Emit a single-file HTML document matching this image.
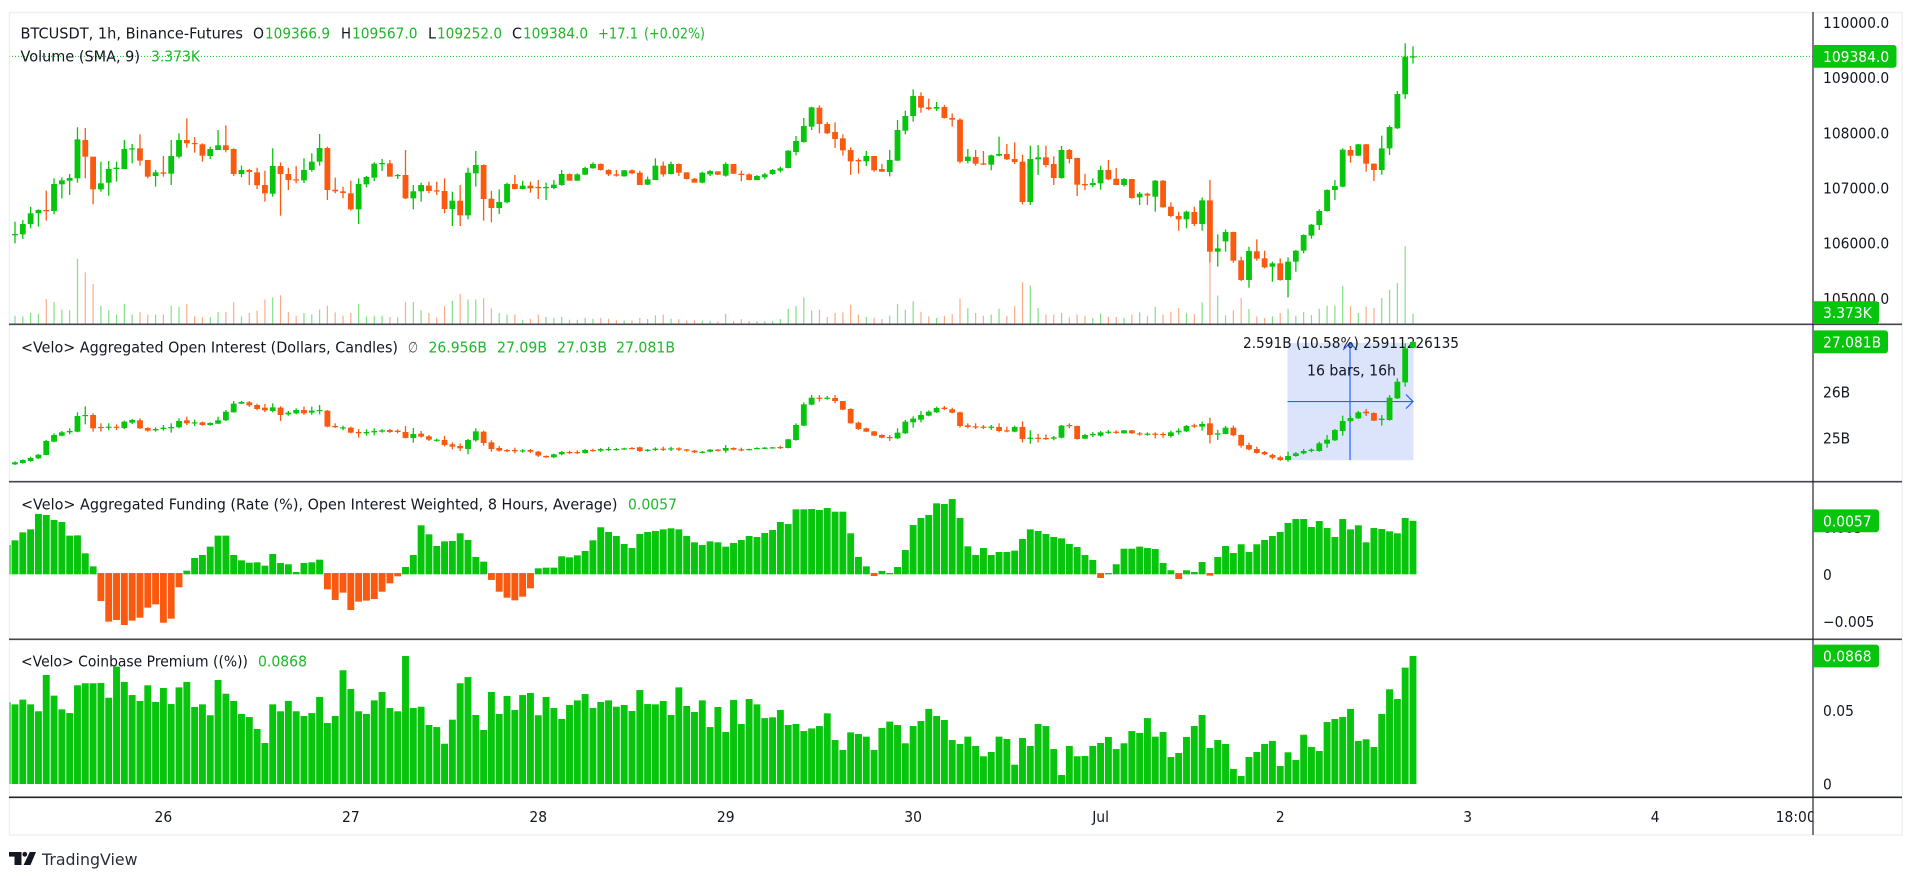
<!DOCTYPE html>
<html lang="en">
<head>
<meta charset="utf-8">
<title>BTCUSDT 1h chart</title>
<style>
html,body{margin:0;padding:0;background:#fff;width:1910px;height:880px;overflow:hidden}
svg{display:block}
text{font-family:"DejaVu Sans","Liberation Sans",sans-serif;font-size:15px;fill:#131722}
.up{fill:#1eb82b}
.w{fill:#fff}
</style>
</head>
<body>
<svg id="chart" width="1910" height="880" viewBox="0 0 1910 880" xmlns="http://www.w3.org/2000/svg">
<defs>
<clipPath id="clip-plot"><rect x="9.5" y="13" width="1803.5" height="784"/></clipPath>
<clipPath id="clip-time"><rect x="9.5" y="798" width="1803.5" height="37"/></clipPath>
</defs>
<rect x="9.5" y="12.5" width="1892.5" height="822.5" fill="#fff" stroke="#eef0f4" stroke-width="1.5"/>
<g id="measure-layer"></g>
<g id="marks" clip-path="url(#clip-plot)"></g>
<g id="lines">
<line x1="9" x2="1902" y1="324.3" y2="324.3" stroke="#434651" stroke-width="1.6"/>
<line x1="9" x2="1902" y1="481.7" y2="481.7" stroke="#434651" stroke-width="1.6"/>
<line x1="9" x2="1902" y1="639.3" y2="639.3" stroke="#434651" stroke-width="1.6"/>
<line x1="9" x2="1902" y1="797.3" y2="797.3" stroke="#22252e" stroke-width="1.6"/>
</g>
<g>
<text x="20.5" y="38.5" textLength="222.5" lengthAdjust="spacingAndGlyphs">BTCUSDT, 1h, Binance-Futures</text>
<text x="253" y="38.5" textLength="11" lengthAdjust="spacingAndGlyphs">O</text>
<text class="up" x="265" y="38.5" textLength="65" lengthAdjust="spacingAndGlyphs">109366.9</text>
<text x="341" y="38.5" textLength="10" lengthAdjust="spacingAndGlyphs">H</text>
<text class="up" x="352" y="38.5" textLength="65.5" lengthAdjust="spacingAndGlyphs">109567.0</text>
<text x="428" y="38.5" textLength="8" lengthAdjust="spacingAndGlyphs">L</text>
<text class="up" x="437" y="38.5" textLength="65" lengthAdjust="spacingAndGlyphs">109252.0</text>
<text x="512" y="38.5" textLength="10" lengthAdjust="spacingAndGlyphs">C</text>
<text class="up" x="523" y="38.5" textLength="65" lengthAdjust="spacingAndGlyphs">109384.0</text>
<text class="up" x="598" y="38.5" textLength="40" lengthAdjust="spacingAndGlyphs">+17.1</text>
<text class="up" x="644" y="38.5" textLength="61" lengthAdjust="spacingAndGlyphs">(+0.02%)</text>
<text x="20.5" y="61.5" textLength="119.5" lengthAdjust="spacingAndGlyphs">Volume (SMA, 9)</text>
<text class="up" x="151" y="61.5" textLength="49" lengthAdjust="spacingAndGlyphs">3.373K</text>
</g>
<g>
<text x="21" y="352.5" textLength="377" lengthAdjust="spacingAndGlyphs">&lt;Velo&gt; Aggregated Open Interest (Dollars, Candles)</text>
<text x="408" y="352.5" fill="#555" style="fill:#555" textLength="10" lengthAdjust="spacingAndGlyphs">∅</text>
<text class="up" x="428.5" y="352.5" textLength="58.5" lengthAdjust="spacingAndGlyphs">26.956B</text>
<text class="up" x="497" y="352.5" textLength="50" lengthAdjust="spacingAndGlyphs">27.09B</text>
<text class="up" x="557" y="352.5" textLength="50" lengthAdjust="spacingAndGlyphs">27.03B</text>
<text class="up" x="616" y="352.5" textLength="59" lengthAdjust="spacingAndGlyphs">27.081B</text>
</g>
<g>
<text x="21" y="509.5" textLength="596.5" lengthAdjust="spacingAndGlyphs">&lt;Velo&gt; Aggregated Funding (Rate (%), Open Interest Weighted, 8 Hours, Average)</text>
<text class="up" x="628" y="509.5" textLength="49" lengthAdjust="spacingAndGlyphs">0.0057</text>
</g>
<g>
<text x="21" y="666.5" textLength="227" lengthAdjust="spacingAndGlyphs">&lt;Velo&gt; Coinbase Premium ((%))</text>
<text class="up" x="258" y="666.5" textLength="49" lengthAdjust="spacingAndGlyphs">0.0868</text>
</g>
<g id="time-axis" clip-path="url(#clip-time)"></g>
<g id="price-axis"></g>
<line x1="1813" x2="1813" y1="12" y2="835" stroke="#22252e" stroke-width="1.2"/>
<g id="badges"></g>
<g>
<rect x="9" y="852" width="12.5" height="4.6" fill="#131722"/>
<rect x="14.5" y="852" width="7" height="13" fill="#131722"/>
<circle cx="24.8" cy="854.3" r="2.4" fill="#131722"/>
<polygon points="29.8,852 36,852 30.5,865 23.6,865" fill="#131722"/>
<text x="42" y="865" textLength="95.5" lengthAdjust="spacingAndGlyphs" style="font-size:16px;fill:#2a2e39">TradingView</text>
</g>
</svg>
<script>
// [open, high, low, close] per hourly bar, USDT
const btcOhlc = [
[106141,106388,105996,106165],[106159,106419,106074,106346],[106346,106660,106268,106540],[106540,106612,106298,106600],
[106600,106950,106407,106576],[106582,107174,106521,107071],[107065,107192,106811,107137],[107131,107252,106872,107180],
[107174,108098,107095,107880],[107868,108086,107174,107566],[107566,107566,106702,106974],[106974,107476,106932,107083],
[107095,107488,106859,107343],[107343,107476,107113,107367],[107343,107868,107343,107705],[107699,107796,107445,107717],
[107717,107971,107403,107494],[107506,107506,107174,107204],[107216,107325,107023,107282],[107282,107578,107204,107258],
[107258,107868,107053,107578],[107566,107989,107536,107868],[107868,108261,107729,107808],[107814,107917,107639,107802],
[107790,107808,107476,107584],[107578,107747,107524,107705],[107687,108049,107687,107772],[107772,108134,107645,107687],
[107705,107717,107216,107252],[107252,107403,107192,107325],[107325,107343,107053,107288],[107282,107367,106980,107047],
[107053,107312,106751,106902],[106896,107717,106841,107397],[107397,107463,106497,107252],[107252,107367,106962,107143],
[107155,107397,107083,107137],[107137,107536,107089,107325],[107325,107627,107294,107476],[107476,107977,107403,107723],
[107723,107747,106781,106962],[106968,107186,106902,106938],[106938,107023,106811,106908],[106902,107131,106588,106612],
[106612,107174,106346,107071],[107065,107216,107011,107198],[107186,107464,107125,107439],[107433,107524,107306,107451],
[107445,107506,107204,107204],[107216,107252,107161,107234],[107234,107687,106799,106811],[106811,107053,106612,106938],
[106938,107095,106751,107053],[107041,107113,106902,106944],[106956,107113,106872,106938],[106944,107174,106539,106618],
[106618,106932,106310,106769],[106769,107053,106310,106503],[106503,107367,106431,107276],[107264,107669,107023,107415],
[107415,107427,106407,106799],[106805,106950,106376,106636],[106636,106974,106527,106745],[106739,107095,106721,107071],
[107071,107234,106974,106980],[106980,107131,106974,107041],[107041,107113,106914,106992],[107017,107143,106799,106998],
[107004,107095,106781,107017],[106998,107143,106974,107059],[107053,107325,107041,107252],[107252,107264,107131,107131],
[107131,107264,107131,107246],[107240,107385,107234,107361],[107355,107464,107349,107433],[107433,107445,107313,107325],
[107325,107337,107216,107246],[107246,107325,107204,107222],[107210,107325,107204,107319],[107319,107337,107246,107264],
[107276,107312,107053,107053],[107059,107204,107053,107155],[107143,107536,107143,107403],[107403,107476,107204,107246],
[107252,107476,107246,107433],[107433,107445,107216,107276],[107282,107282,107155,107161],[107167,107180,107095,107095],
[107095,107294,107083,107276],[107246,107325,107216,107306],[107300,107300,107234,107240],[107222,107464,107204,107433],
[107433,107433,107252,107258],[107258,107312,107119,107234],[107246,107264,107137,107143],[107143,107234,107143,107216],
[107192,107270,107155,107246],[107252,107343,107240,107325],[107313,107385,107282,107355],[107361,107687,107355,107675],
[107651,107941,107590,107850],[107832,108267,107820,108122],[108110,108472,108049,108460],[108454,108496,107989,108158],
[108158,108194,107977,107989],[108013,108188,107723,107886],[107898,107971,107584,107681],[107687,107735,107234,107482],
[107506,107536,107258,107482],[107482,107669,107397,107578],[107578,107578,107294,107319],[107343,107433,107288,107294],
[107288,107687,107210,107506],[107494,108231,107488,108049],[108037,108400,107971,108303],[108303,108786,108200,108666],
[108666,108732,108363,108454],[108460,108617,108406,108430],[108436,108557,108394,108466],[108466,108502,108255,108267],
[108267,108351,108110,108237],[108237,108261,107445,107476],[107488,107705,107445,107566],[107560,107687,107403,107439],
[107445,107669,107415,107421],[107421,107602,107319,107590],[107584,107929,107572,107615],[107615,107796,107506,107518],
[107524,107826,107433,107470],[107476,107602,106702,106745],[106745,107766,106690,107524],[107518,107778,107234,107554],
[107554,107766,107373,107415],[107433,107572,107053,107180],[107180,107760,107168,107687],[107687,107705,107445,107524],
[107542,107548,106854,107059],[107071,107252,106962,107047],[107053,107174,107011,107089],[107083,107403,106968,107325],
[107325,107506,107143,107155],[107167,107361,107047,107053],[107053,107180,107023,107161],[107161,107161,106805,106817],
[106829,106926,106690,106896],[106896,106914,106690,106860],[106841,107143,106570,107131],[107131,107143,106642,106648],
[106660,106739,106467,106491],[106491,106570,106225,106431],[106431,106588,106268,106570],[106564,106660,106310,106346],
[106346,106829,106225,106775],[106775,107143,105651,105845],[105845,106159,105573,105905],[106032,106249,105845,106201],
[106201,106207,105646,105682],[105688,105754,105313,105332],[105332,105935,105192,105857],[105851,106068,105682,105718],
[105724,105863,105543,105561],[105573,105664,105301,105633],[105633,105724,105319,105332],[105332,105742,105017,105664],
[105664,105875,105482,105863],[105863,106159,105815,106147],[106135,106346,106080,106334],[106328,106612,106237,106582],
[106582,106974,106570,106962],[106962,107143,106781,107035],[107023,107717,107011,107693],[107687,107760,107457,107584],
[107584,107796,107578,107790],[107790,107796,107294,107439],[107439,107445,107125,107325],[107325,107947,107240,107717],
[107717,108134,107596,108104],[108080,108756,108068,108702],[108696,109620,108611,109378],[109366.9,109567,109252,109384]
];

// Volume per bar, thousands
const btcVolume = [
2.7,2.5,3.6,3.4,8.2,7.2,4.7,4.5,21.3,16.9,13.1,6.0,4.5,3.1,6.6,3.1,3.9,3.1,3.1,3.1,
6.0,5.6,6.6,2.5,2.2,2.2,3.9,3.9,7.1,2.5,3.6,4.4,8.0,8.7,9.4,3.9,2.7,3.6,3.1,4.7,
6.0,3.8,2.7,3.6,6.6,2.5,2.7,2.7,2.3,2.2,7.2,7.2,4.5,3.6,2.2,5.8,7.6,9.9,8.0,8.0,
8.4,5.1,3.6,3.1,3.1,1.4,1.7,3.1,2.3,2.0,2.3,1.4,1.4,2.0,1.7,2.0,1.7,1.2,1.1,1.1,
2.0,1.6,2.8,3.1,1.7,1.6,1.1,1.2,1.1,1.0,0.9,3.3,1.0,1.6,1.0,0.9,0.9,0.9,1.6,5.0,
5.8,8.7,4.4,4.7,2.3,3.6,3.8,6.3,3.1,2.3,2.0,1.6,2.7,6.6,4.7,7.4,4.0,2.5,2.0,2.7,
3.2,8.3,5.2,3.6,2.7,3.1,5.0,2.7,5.8,13.7,12.6,5.2,3.1,3.1,3.6,2.2,3.1,2.7,2.0,3.4,
2.3,2.3,2.0,3.1,3.8,2.7,5.6,3.1,4.0,5.2,3.6,3.3,7.1,20.3,9.3,2.8,4.5,8.5,4.9,2.5,
2.0,2.5,3.6,5.0,2.7,3.9,2.9,5.0,6.0,6.0,12.5,5.8,3.6,5.7,5.2,8.5,11.2,13.4,25.4,3.373
];

// Open interest [open, high, low, close], billions of dollars
const oiOhlc = [
[24.420,24.485,24.406,24.464],[24.449,24.529,24.435,24.514],[24.493,24.587,24.478,24.558],[24.551,24.645,24.536,24.630],
[24.623,24.949,24.616,24.927],[24.913,25.094,24.898,25.058],[25.043,25.145,25.029,25.116],[25.116,25.203,25.072,25.145],
[25.130,25.551,25.116,25.471],[25.471,25.681,25.290,25.493],[25.493,25.529,25.130,25.203],[25.232,25.312,25.130,25.217],
[25.225,25.312,25.159,25.239],[25.239,25.290,25.167,25.217],[25.210,25.369,25.188,25.348],[25.326,25.406,25.297,25.384],
[25.377,25.420,25.188,25.203],[25.210,25.225,25.130,25.152],[25.159,25.225,25.130,25.188],[25.188,25.275,25.152,25.217],
[25.203,25.312,25.109,25.232],[25.225,25.420,25.203,25.362],[25.377,25.456,25.275,25.312],[25.319,25.391,25.254,25.333],
[25.333,25.348,25.261,25.275],[25.275,25.333,25.261,25.319],[25.304,25.456,25.297,25.377],[25.377,25.601,25.362,25.565],
[25.551,25.797,25.543,25.739],[25.739,25.797,25.732,25.775],[25.768,25.797,25.666,25.703],[25.710,25.739,25.594,25.623],
[25.652,25.732,25.558,25.594],[25.580,25.746,25.551,25.659],[25.652,25.681,25.362,25.493],[25.507,25.580,25.478,25.543],
[25.529,25.638,25.507,25.601],[25.601,25.674,25.493,25.529],[25.543,25.674,25.493,25.587],[25.580,25.710,25.507,25.601],
[25.587,25.601,25.225,25.239],[25.254,25.312,25.210,25.225],[25.203,25.261,25.159,25.225],[25.217,25.239,25.094,25.109],
[25.123,25.188,24.999,25.094],[25.094,25.181,25.043,25.123],[25.116,25.203,25.051,25.145],[25.130,25.188,25.109,25.159],
[25.167,25.188,25.101,25.123],[25.152,25.181,25.094,25.123],[25.123,25.254,24.985,24.993],[24.993,25.210,24.891,25.079],
[25.087,25.145,24.999,25.022],[25.029,25.058,24.927,24.956],[24.935,24.978,24.913,24.956],[24.949,25.036,24.811,24.840],
[24.855,24.898,24.746,24.804],[24.819,24.877,24.710,24.768],[24.753,24.971,24.637,24.949],[24.942,25.203,24.913,25.137],
[25.130,25.152,24.826,24.884],[24.898,24.942,24.695,24.753],[24.775,24.819,24.695,24.717],[24.732,24.753,24.681,24.703],
[24.732,24.782,24.659,24.703],[24.710,24.753,24.674,24.724],[24.732,24.753,24.666,24.695],[24.695,24.710,24.580,24.609],
[24.601,24.616,24.558,24.572],[24.572,24.652,24.558,24.637],[24.637,24.710,24.616,24.688],[24.688,24.717,24.645,24.674],
[24.688,24.724,24.645,24.674],[24.666,24.753,24.652,24.732],[24.732,24.761,24.695,24.717],[24.717,24.775,24.688,24.753],
[24.739,24.797,24.710,24.753],[24.739,24.775,24.717,24.753],[24.753,24.782,24.732,24.768],[24.775,24.797,24.753,24.761],
[24.790,24.804,24.688,24.710],[24.724,24.753,24.695,24.739],[24.732,24.790,24.710,24.761],[24.761,24.804,24.710,24.739],
[24.746,24.804,24.710,24.768],[24.768,24.790,24.710,24.739],[24.746,24.753,24.695,24.717],[24.717,24.732,24.666,24.681],
[24.674,24.710,24.659,24.695],[24.695,24.753,24.681,24.739],[24.739,24.753,24.695,24.717],[24.717,24.840,24.674,24.775],
[24.775,24.790,24.724,24.739],[24.746,24.782,24.703,24.732],[24.739,24.761,24.724,24.753],[24.761,24.790,24.753,24.775],
[24.768,24.797,24.753,24.782],[24.775,24.797,24.761,24.790],[24.797,24.826,24.753,24.775],[24.775,24.971,24.768,24.964],
[24.949,25.312,24.935,25.275],[25.261,25.768,25.254,25.724],[25.717,25.927,25.703,25.869],[25.869,25.927,25.782,25.848],
[25.848,25.906,25.826,25.869],[25.862,25.927,25.746,25.797],[25.797,25.797,25.601,25.609],[25.623,25.638,25.304,25.312],
[25.326,25.348,25.167,25.188],[25.203,25.217,25.123,25.130],[25.137,25.145,25.036,25.043],[25.058,25.072,24.985,24.999],
[25.014,25.058,24.927,24.993],[24.985,25.203,24.971,25.109],[25.094,25.384,25.080,25.348],[25.333,25.464,25.217,25.413],
[25.391,25.580,25.333,25.493],[25.478,25.594,25.464,25.565],[25.551,25.674,25.536,25.645],[25.652,25.688,25.601,25.623],
[25.616,25.652,25.529,25.543],[25.551,25.565,25.217,25.254],[25.268,25.312,25.203,25.232],[25.246,25.312,25.188,25.225],
[25.239,25.275,25.188,25.217],[25.217,25.275,25.167,25.239],[25.232,25.312,25.116,25.145],[25.159,25.239,25.116,25.137],
[25.130,25.261,25.116,25.232],[25.232,25.355,24.898,24.971],[24.978,25.159,24.869,24.999],[24.999,25.087,24.898,24.978],
[24.993,25.072,24.949,24.971],[24.978,25.036,24.942,25.007],[24.999,25.275,24.985,25.261],[25.275,25.312,25.203,25.254],
[25.254,25.261,24.956,24.971],[24.978,25.080,24.971,25.058],[25.051,25.123,25.014,25.080],[25.043,25.145,25.022,25.116],
[25.109,25.167,25.080,25.130],[25.130,25.159,25.080,25.109],[25.094,25.167,25.087,25.159],[25.159,25.167,25.080,25.094],
[25.094,25.123,25.043,25.072],[25.072,25.116,25.043,25.087],[25.087,25.116,24.985,25.065],[25.080,25.116,24.999,25.058],
[25.036,25.152,24.999,25.116],[25.116,25.203,25.065,25.152],[25.137,25.275,25.123,25.254],[25.268,25.304,25.210,25.239],
[25.239,25.348,25.152,25.297],[25.312,25.435,24.877,25.058],[25.065,25.167,24.949,25.094],[25.080,25.254,25.072,25.217],
[25.217,25.261,25.029,25.051],[25.058,25.072,24.782,24.826],[24.840,24.891,24.724,24.746],[24.753,24.804,24.652,24.666],
[24.688,24.710,24.623,24.637],[24.623,24.652,24.529,24.565],[24.572,24.608,24.493,24.514],[24.514,24.695,24.478,24.601],
[24.601,24.688,24.587,24.659],[24.659,24.753,24.637,24.710],[24.710,24.768,24.681,24.739],[24.710,24.913,24.695,24.877],
[24.869,25.058,24.782,24.956],[24.942,25.188,24.927,25.167],[25.145,25.478,25.043,25.362],[25.362,25.478,25.326,25.427],
[25.420,25.580,25.406,25.551],[25.565,25.623,25.471,25.529],[25.536,25.551,25.362,25.369],[25.384,25.493,25.261,25.413],
[25.384,25.927,25.369,25.869],[25.855,26.290,25.840,26.217],[26.202,27.050,26.108,26.942],[26.956,27.090,26.950,27.081]
];

// Funding rate in percent; first value is the partly visible bar before the first candle
const fundingRate = [
.00312,.00362,.00447,.00479,.00643,.00632,.00579,.00557,.00412,.00415,.00224,.00085,-.00284,-.00504,-.00486,-.00540,-.00493,-.00462,-.00355,-.00320,
-.00515,-.00472,-.00138,.00039,.00174,.00206,.00295,.00412,.00412,.00206,.00149,.00124,.00128,.00092,.00217,.00121,.00107,.00025,.00121,.00128,
.00156,-.00160,-.00273,-.00195,-.00380,-.00291,-.00280,-.00263,-.00185,-.00096,-.00021,.00078,.00206,.00522,.00426,.00302,.00351,.00355,.00437,.00366,
.00185,.00135,-.00060,-.00185,-.00249,-.00277,-.00238,-.00149,.00064,.00071,.00071,.00192,.00181,.00202,.00249,.00362,.00501,.00451,.00408,.00323,
.00280,.00430,.00451,.00462,.00479,.00490,.00479,.00408,.00341,.00312,.00351,.00341,.00295,.00334,.00366,.00408,.00398,.00440,.00472,.00557,
.00536,.00692,.00692,.00696,.00685,.00706,.00667,.00667,.00437,.00185,.00085,-.00018,.00036,.00014,.00078,.00259,.00525,.00600,.00632,.00756,
.00749,.00802,.00600,.00298,.00206,.00280,.00206,.00238,.00238,.00252,.00376,.00479,.00462,.00430,.00398,.00383,.00323,.00291,.00206,.00153,
-.00039,.00014,.00107,.00273,.00273,.00295,.00280,.00270,.00121,.00043,-.00050,.00043,.00025,.00131,-.00014,.00185,.00302,.00227,.00320,.00238,
.00320,.00366,.00408,.00451,.00547,.00589,.00589,.00504,.00568,.00493,.00398,.00589,.00479,.00522,.00341,.00493,.00483,.00458,.00437,.00600,.0057
];

// Coinbase premium in percent; first value is the partly visible bar before the first candle
const premiumPct = [
.0554,.0540,.0572,.0540,.0493,.0739,.0599,.0506,.0481,.0669,.0683,.0683,.0685,.0585,.0796,.0692,.0603,.0563,.0669,.0556,
.0651,.0542,.0655,.0692,.0522,.0540,.0466,.0705,.0612,.0563,.0475,.0454,.0373,.0278,.0540,.0493,.0563,.0493,.0461,.0481,
.0590,.0414,.0461,.0771,.0644,.0493,.0475,.0567,.0624,.0515,.0493,.0868,.0515,.0524,.0400,.0386,.0273,.0436,.0683,.0725,
.0468,.0366,.0624,.0475,.0597,.0502,.0603,.0617,.0466,.0590,.0515,.0441,.0536,.0567,.0610,.0515,.0556,.0567,.0524,.0536,
.0495,.0637,.0542,.0540,.0563,.0468,.0655,.0529,.0488,.0567,.0386,.0522,.0353,.0570,.0407,.0576,.0540,.0447,.0452,.0502,
.0400,.0407,.0359,.0377,.0393,.0479,.0298,.0231,.0350,.0339,.0321,.0231,.0380,.0423,.0400,.0276,.0393,.0427,.0509,.0461,
.0434,.0298,.0271,.0321,.0258,.0188,.0217,.0321,.0305,.0131,.0312,.0258,.0407,.0393,.0237,.0061,.0258,.0188,.0190,.0258,
.0278,.0319,.0237,.0276,.0359,.0346,.0447,.0321,.0353,.0183,.0210,.0319,.0393,.0468,.0244,.0298,.0271,.0102,.0054,.0183,
.0217,.0271,.0292,.0122,.0215,.0163,.0334,.0251,.0224,.0420,.0441,.0454,.0509,.0292,.0303,.0251,.0475,.0642,.0576,.0789,.0868
];

const dayLabels = ['26','27','28','29','30','Jul','2','3','4','18:00'];
const dayBars = [19,43,67,91,115,139,162,186,210,228];
const priceTicks = [110000,109000,108000,107000,106000,105000];
const oiTicks = [26,25];
const fundingTicks = [0.005,0,-0.005];
const premiumTicks = [0.05,0];
const lastPrice = [109384.0];
const lastVolume = [3.373];
const lastOi = [27.081];
const lastFunding = [0.0057];
const lastPremium = [0.0868];
const measureBars = [163,179];
const measureValues = [24.51,27.06];

const GREEN = '#07c40c', RED = '#fa5a0f', BLUE = '#2962ff';
const SVGNS = 'http://www.w3.org/2000/svg';
const marks = document.getElementById('marks');
const axisG = document.getElementById('price-axis');
const timeG = document.getElementById('time-axis');
const badges = document.getElementById('badges');
const measureG = document.getElementById('measure-layer');

// Axis functions
const xOf = i => 15 + 7.81 * i;
const yPrice = p => 22.35 + (110000 - p) * 0.05519;
const yVolume = v => 324 - v * 3.058;
const yOi = v => 325 + (27.449 - v) * 46;
const yFunding = f => 574.33 - f * 9390;
const yPremium = v => 784 - v * 1475;

function make(tag, attrs, parent) {
  const el = document.createElementNS(SVGNS, tag);
  for (const k in attrs) el.setAttribute(k, attrs[k]);
  parent.appendChild(el);
  return el;
}

function drawCandles(rows, yOf, minBody, name) {
  rows.forEach((r, i) => {
    const x = xOf(i);
    const col = r[3] >= r[0] ? GREEN : RED;
    const wick = make('line', {x1: x, x2: x, y1: yOf(r[1]), y2: yOf(r[2]), stroke: col, 'stroke-width': 1.3}, marks);
    
    
    const top = yOf(Math.max(r[0], r[3]));
    const h = Math.max(minBody, yOf(Math.min(r[0], r[3])) - top);
    const body = make('rect', {x: x - 2.9, y: top, width: 5.8, height: h, fill: col}, marks);
    
    
  });
}

function drawVolume() {
  btcVolume.forEach((v, i) => {
    const r = btcOhlc[i];
    const col = r[3] >= r[0] ? GREEN : RED;
    const y = yVolume(v);
    const bar = make('rect', {x: xOf(i) - 0.6, y: y, width: 1.2, height: 324 - y, fill: col, 'fill-opacity': 0.5}, marks);
    
    
  });
}

function drawFunding() {
  const y0 = yFunding(0);
  fundingRate.forEach((f, i) => {
    const x = xOf(i - 1);
    const y = yFunding(f);
    const top = f >= 0 ? y : y0 - 1.3;
    const bottom = f >= 0 ? y0 : y;
    const bar = make('rect', {x: x - 3.45, y: top, width: 6.9, height: bottom - top, fill: f >= 0 ? GREEN : RED}, marks);
    
    
  });
}

function drawPremium() {
  const y0 = yPremium(0);
  premiumPct.forEach((v, i) => {
    const x = xOf(i - 1);
    const y = yPremium(v);
    const bar = make('rect', {x: x - 3.45, y: y, width: 6.9, height: y0 - y, fill: GREEN}, marks);
    
    
  });
}

function squeeze(el, ratio) {
  const len = el.getComputedTextLength();
  el.setAttribute('textLength', (len * ratio).toFixed(1));
  el.setAttribute('lengthAdjust', 'spacingAndGlyphs');
}

function tick(label, y) {
  const t = make('text', {x: 1823, y: y + 5.6}, axisG);
  t.textContent = label;
  
  
  squeeze(t, 0.925);
}

function badge(label, y, w) {
  const bg = make('path', {d: 'M1813 ' + (y - 11.4) + 'h' + (w - 3) + 'a3 3 0 0 1 3 3v16.8a3 3 0 0 1 -3 3h-' + (w - 3) + 'z', fill: GREEN}, badges);
  
  
  const t = make('text', {x: 1823, y: y + 5.6, class: 'w'}, badges);
  t.textContent = label;
  
  
  squeeze(t, 0.925);
}

function drawMeasure() {
  const x1 = xOf(measureBars[0]), x2 = xOf(measureBars[1]);
  const yBot = yOi(measureValues[0]), yTop = yOi(measureValues[1]);
  const xm = (x1 + x2) / 2 - 0.5, ym = (yTop + yBot) / 2;
  const box = make('rect', {x: x1 - 0.5, y: yTop, width: x2 - x1 + 1, height: yBot - yTop, fill: '#dbe4fb'}, measureG);
  
  
  const h = make('line', {x1: x1 - 0.5, x2: x2, y1: ym, y2: ym, stroke: BLUE, 'stroke-width': 1.2}, measureG);
  
  
  const v = make('line', {x1: xm, x2: xm, y1: yTop, y2: yBot, stroke: BLUE, 'stroke-width': 1.2}, measureG);
  
  
  const ah = make('polyline', {points: (x2 - 7) + ',' + (ym - 7) + ' ' + x2 + ',' + ym + ' ' + (x2 - 7) + ',' + (ym + 7), fill: 'none', stroke: BLUE, 'stroke-width': 1.2}, measureG);
  
  
  const av = make('polyline', {points: (xm - 7) + ',' + (yTop + 7) + ' ' + xm + ',' + yTop + ' ' + (xm + 7) + ',' + (yTop + 7), fill: 'none', stroke: BLUE, 'stroke-width': 1.2}, measureG);
  
  
  const t1 = make('text', {x: 1243, y: 348, textLength: 216, lengthAdjust: 'spacingAndGlyphs'}, measureG);
  t1.textContent = '2.591B (10.58%) 25911226135';
  
  
  const t2 = make('text', {x: 1307, y: 375.5, textLength: 89, lengthAdjust: 'spacingAndGlyphs'}, measureG);
  t2.textContent = '16 bars, 16h';
  
  
}

drawMeasure();

const priceLine = make('line', {x1: 9, x2: 1813, y1: yPrice(lastPrice[0]), y2: yPrice(lastPrice[0]), stroke: GREEN, 'stroke-width': 1, 'stroke-dasharray': '1 2'}, marks);



drawVolume();
drawCandles(btcOhlc, yPrice, 1.2, 'price-candle');
drawCandles(oiOhlc, yOi, 1.2, 'open-interest-candle');
drawFunding();
drawPremium();

priceTicks.forEach(p => tick(p.toFixed(1), yPrice(p)));
oiTicks.forEach(v => tick(v + 'B', yOi(v)));
fundingTicks.forEach(f => tick(f < 0 ? '\u2212' + Math.abs(f) : String(f), yFunding(f)));
premiumTicks.forEach(v => tick(String(v), yPremium(v)));

badge(lastPrice[0].toFixed(1), yPrice(lastPrice[0]), 83.5);
badge(lastVolume[0].toFixed(3) + 'K', 312.6, 66);
badge(lastOi[0].toFixed(3) + 'B', 341.8, 75);
badge(lastFunding[0].toFixed(4), yFunding(lastFunding[0]), 66);
badge(lastPremium[0].toFixed(4), yPremium(lastPremium[0]), 66);

dayLabels.forEach((label, k) => {
  const t = make('text', {x: xOf(dayBars[k]), y: 822, 'text-anchor': 'middle'}, timeG);
  t.textContent = label;
  
  
  squeeze(t, 0.925);
});
</script>
</body>
</html>
